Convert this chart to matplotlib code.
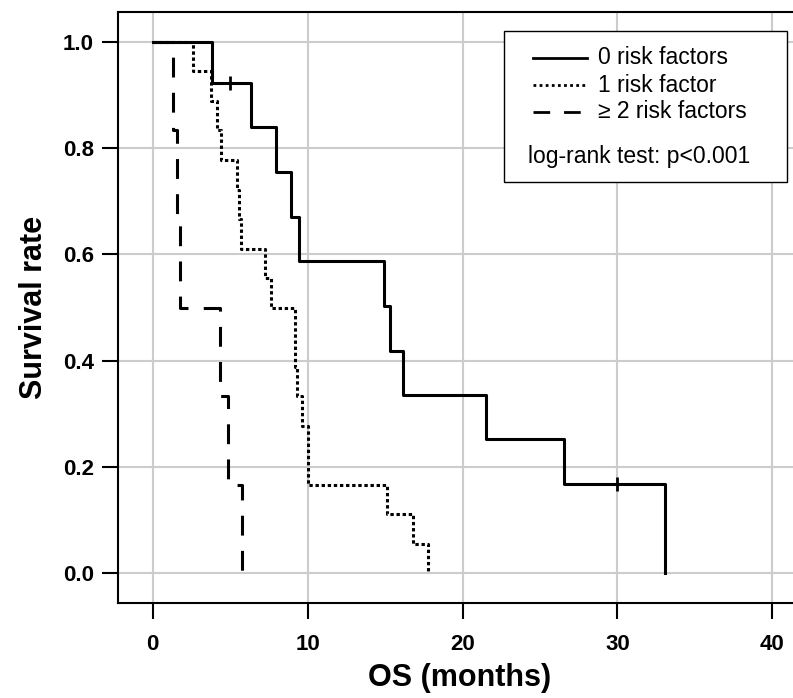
import matplotlib
matplotlib.use("Agg")
import matplotlib.pyplot as plt
from matplotlib.lines import Line2D
from matplotlib.patches import Rectangle

plt.rcParams['font.family'] = ['Liberation Sans', 'DejaVu Sans']

# Kaplan-Meier steps (time in months, survival after the step)
t_zero = [0, 3.85, 6.34, 7.93, 8.92, 9.44, 14.94, 15.31, 16.17, 21.5, 26.55, 33.05]
s_zero = [1.0, 0.923, 0.839, 0.755, 0.671, 0.587, 0.503, 0.419, 0.336, 0.252, 0.168, 0.0]
cens_t_zero = [5.0, 30.0]
cens_s_zero = [0.923, 0.168]

t_one = [0, 2.62, 3.74, 4.13, 4.39, 5.42, 5.55, 5.68, 7.25, 7.61, 9.18, 9.29, 9.61,
         10.04, 15.1, 16.8, 17.78]
s_one = [1.0, 0.944, 0.889, 0.833, 0.778, 0.722, 0.667, 0.611, 0.556, 0.5, 0.389,
         0.333, 0.278, 0.167, 0.111, 0.056, 0.0]

t_two = [0, 1.3, 1.55, 1.76, 4.34, 4.88, 5.76]
s_two = [1.0, 0.833, 0.667, 0.5, 0.333, 0.167, 0.0]

labels = ['0 risk factors', '1 risk factor', '\u2265 2 risk factors']
test_text = 'log-rank test: p<0.001'

x_ticks = [0, 10, 20, 30, 40]
y_ticks = [0.0, 0.2, 0.4, 0.6, 0.8, 1.0]

DOT = (0, (1.1, 0.9))
DASH = (0, (6.5, 5))
LW = 2.2

fig = plt.figure(figsize=(7.93, 6.98), dpi=100)
ax = fig.add_axes([0.1492, 0.1365, 0.8597, 0.8463])

ax.step(t_two, s_two, where='post', color='black', lw=LW, linestyle=DASH)
ax.step(t_one, s_one, where='post', color='black', lw=LW, linestyle=DOT)
ax.step(t_zero, s_zero, where='post', color='black', lw=LW, linestyle='-')
ax.plot(cens_t_zero, cens_s_zero, linestyle='none', marker='|', color='black',
        markersize=9.5, markeredgewidth=2)

ax.set_xlim(-2.22, 41.79)
ax.set_ylim(-0.0553, 1.0559)
ax.set_xticks(x_ticks)
ax.set_yticks(y_ticks)
ax.set_yticklabels(['%.1f' % v for v in y_ticks])
ax.grid(True, color='#cccccc', lw=1.5)
ax.set_axisbelow(True)

for side in ['left', 'top', 'bottom']:
    ax.spines[side].set_linewidth(1.5)
ax.spines['right'].set_visible(False)

ax.tick_params(axis='both', direction='out', length=11.5, width=1.5,
               labelsize=16)
ax.tick_params(axis='x', pad=11)
ax.tick_params(axis='y', pad=6)
for lab in ax.get_xticklabels() + ax.get_yticklabels():
    lab.set_fontweight('bold')

ax.set_xlabel('OS (months)', fontsize=22, fontweight='bold', labelpad=6)
ax.set_ylabel('Survival rate', fontsize=22, fontweight='bold', labelpad=10)

# legend box drawn by hand so the test line can sit inside it
ax.add_patch(Rectangle((0.5658, 0.7127), 0.4147, 0.2556, transform=ax.transAxes,
                       facecolor='white', edgecolor='black', lw=1.0, zorder=5))
rows = [0.9226, 0.8764, 0.8312]
styles = ['-', (0, (1.0, 1.2)), (0, (6, 5))]
for y, ls, lab in zip(rows, styles, labels):
    ax.add_line(Line2D([0.6081, 0.6874], [y, y], transform=ax.transAxes,
                       color='black', lw=2.0, linestyle=ls, zorder=6))
    ax.text(0.7036, y, lab, transform=ax.transAxes, fontsize=16.5,
            va='center', ha='left', zorder=6)
ax.text(0.6014, 0.7550, test_text, transform=ax.transAxes, fontsize=16.5,
        va='center', ha='left', zorder=6)

fig.savefig('out.png', dpi=100)
